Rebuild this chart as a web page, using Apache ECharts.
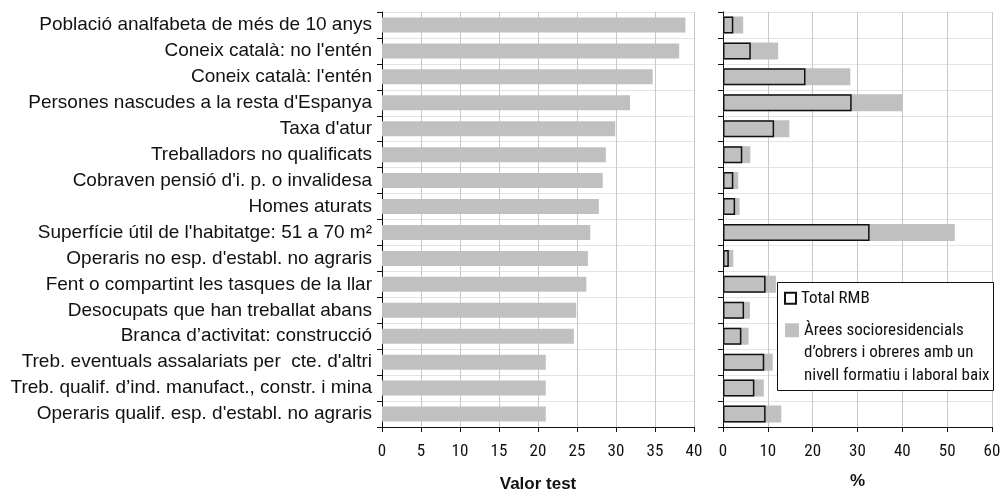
<!DOCTYPE html>
<html><head><meta charset="utf-8">
<script src="https://cdn.jsdelivr.net/npm/echarts@6/dist/echarts.min.js"></script>
<style>html,body{margin:0;padding:0;background:#fff}#c{width:1003px;height:491px}</style>
</head><body><div id="c"></div>
<script>
var categories = [
  "Població analfabeta de més de 10 anys",
  "Coneix català: no l'entén",
  "Coneix català: l'entén",
  "Persones nascudes a la resta d'Espanya",
  "Taxa d'atur",
  "Treballadors no qualificats",
  "Cobraven pensió d'i. p. o invalidesa",
  "Homes aturats",
  "Superfície útil de l'habitatge: 51 a 70 m²",
  "Operaris no esp. d'establ. no agraris",
  "Fent o compartint les tasques de la llar",
  "Desocupats que han treballat abans",
  "Branca d’activitat: construcció",
  "Treb. eventuals assalariats per  cte. d'altri",
  "Treb. qualif. d’ind. manufact., constr. i mina",
  "Operaris qualif. esp. d'establ. no agraris"
];
var valorTest = [38.9, 38.1, 34.7, 31.8, 29.9, 28.7, 28.3, 27.8, 26.7, 26.4, 26.2, 24.9, 24.6, 21.0, 21.0, 21.0];
var areesPct = [4.5, 12.3, 28.4, 40.0, 14.8, 6.1, 3.4, 3.7, 51.7, 2.3, 11.8, 6.0, 5.7, 11.1, 9.1, 13.0];
var totalPct = [2.3, 6.2, 18.4, 28.7, 11.4, 4.3, 2.3, 2.7, 32.7, 1.3, 9.5, 4.7, 4.1, 9.2, 7.0, 9.5];
var seriesNames = ["Total RMB", "Àrees socioresidencials\nd’obrers i obreres amb un\nnivell formatiu i laboral baix"];
var axisTitles = ["Valor test", "%"];

var grayC = '#c0c0c0';
var nFont = 'Roboto, "Liberation Sans", Arial';
var nStyle = 'condensed';
var chart = echarts.init(document.getElementById('c'));
chart.setOption({
  animation:false,
  textStyle:{fontFamily:'"Liberation Sans", Arial'},
  grid:[
    {left:382, width:312, top:12, height:415, outerBoundsMode:'none', containLabel:false},
    {left:723, width:269, top:12, height:415, outerBoundsMode:'none', containLabel:false}
  ],
  xAxis:[
    {gridIndex:0, type:'value', min:0, max:40, interval:5,
     name:axisTitles[0], nameLocation:'middle', nameGap:49,
     nameTextStyle:{fontWeight:'bold', fontSize:17, color:'#111'},
     axisLine:{show:true, lineStyle:{color:'#111'}},
     axisTick:{show:true, length:5, lineStyle:{color:'#111'}},
     axisLabel:{margin:16, fontSize:17, color:'#111', fontFamily:nFont, fontStyle:nStyle},
     splitLine:{show:true, lineStyle:{color:'#c8c8c8', width:1}}},
    {gridIndex:1, type:'value', min:0, max:60, interval:10,
     name:axisTitles[1], nameLocation:'middle', nameGap:46,
     nameTextStyle:{fontWeight:'bold', fontSize:17, color:'#111'},
     axisLine:{show:true, lineStyle:{color:'#111'}},
     axisTick:{show:true, length:5, lineStyle:{color:'#111'}},
     axisLabel:{margin:16, fontSize:17, color:'#111', fontFamily:nFont, fontStyle:nStyle},
     splitLine:{show:true, lineStyle:{color:'#c8c8c8', width:1}}}
  ],
  yAxis:[
    {gridIndex:0, type:'category', data:categories, inverse:true,
     axisLine:{show:true, lineStyle:{color:'#111'}},
     axisTick:{show:true, length:5, lineStyle:{color:'#111'}},
     axisLabel:{margin:10, fontSize:19, color:'#111'},
     splitLine:{show:true, lineStyle:{color:'#e4e4e4'}}},
    {gridIndex:1, type:'category', data:categories, inverse:true,
     axisLine:{show:true, lineStyle:{color:'#111'}},
     axisTick:{show:true, length:5, lineStyle:{color:'#111'}},
     axisLabel:{show:false},
     splitLine:{show:true, lineStyle:{color:'#e4e4e4'}}}
  ],
  legend:[
    {data:[{name:seriesNames[0], icon:'rect'}], left:784, top:287, orient:'vertical', z:20,
     itemWidth:11, itemHeight:11, itemGap:0, padding:0,
     textStyle:{fontSize:17, color:'#111', fontFamily:nFont, fontStyle:nStyle, lineHeight:22.5},
     selectedMode:false},
    {data:[{name:seriesNames[1], icon:'rect'}], left:785, top:274, orient:'vertical', z:20,
     itemWidth:14, itemHeight:14, itemGap:0, padding:0,
     formatter:function(n){return '\n\n'+n;},
     textStyle:{fontSize:17, color:'#111', fontFamily:nFont, fontStyle:nStyle, lineHeight:22.5},
     selectedMode:false}
  ],
  graphic:[{type:'rect', left:777, top:282, shape:{width:216, height:108}, z:10,
    style:{fill:'#fff', stroke:'#111', lineWidth:1}}],
  series:[
    {type:'bar', xAxisIndex:0, yAxisIndex:0, data:valorTest, barWidth:15,
     itemStyle:{color:grayC}},
    {type:'bar', name:seriesNames[1], xAxisIndex:1, yAxisIndex:1, data:areesPct, barWidth:17, barGap:'-100%',
     itemStyle:{color:grayC}},
    {type:'bar', name:seriesNames[0], xAxisIndex:1, yAxisIndex:1, data:totalPct, barWidth:17, barGap:'-100%',
     itemStyle:{color:'rgba(0,0,0,0)', borderColor:'#111', borderWidth:1.5}}
  ]
});
</script></body></html>
